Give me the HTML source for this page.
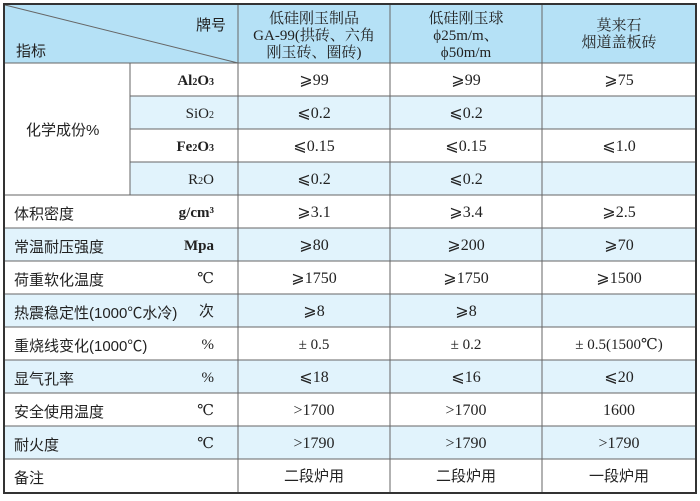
<!DOCTYPE html>
<html><head><meta charset="utf-8"><style>
html,body{margin:0;padding:0;background:#fff;}
svg text{font-family:"Liberation Serif","DejaVu Serif","Noto Serif CJK SC",serif;font-size:15px;fill:#222;}
.v{font-size:16px;}
.s{font-family:"Liberation Sans","Noto Sans CJK SC",sans-serif;font-size:15px;fill:#222;}
</style></head><body>
<svg width="700" height="496" viewBox="0 0 700 496" xmlns="http://www.w3.org/2000/svg">
<rect x="0" y="0" width="700" height="496" fill="#fff"/>
<rect x="4" y="4" width="692" height="59" fill="#b5e1f6"/>
<rect x="130" y="96" width="566" height="33" fill="#e1f3fc"/>
<rect x="130" y="162" width="566" height="33" fill="#e1f3fc"/>
<rect x="4" y="228" width="692" height="33" fill="#e1f3fc"/>
<rect x="4" y="294" width="692" height="33" fill="#e1f3fc"/>
<rect x="4" y="360" width="692" height="33" fill="#e1f3fc"/>
<rect x="4" y="426" width="692" height="33" fill="#e1f3fc"/>
<g stroke="#666" stroke-width="1">
<line x1="4" y1="63" x2="696" y2="63"/>
<line x1="130" y1="96" x2="696" y2="96"/>
<line x1="130" y1="129" x2="696" y2="129"/>
<line x1="130" y1="162" x2="696" y2="162"/>
<line x1="4" y1="195" x2="696" y2="195"/>
<line x1="4" y1="228" x2="696" y2="228"/>
<line x1="4" y1="261" x2="696" y2="261"/>
<line x1="4" y1="294" x2="696" y2="294"/>
<line x1="4" y1="327" x2="696" y2="327"/>
<line x1="4" y1="360" x2="696" y2="360"/>
<line x1="4" y1="393" x2="696" y2="393"/>
<line x1="4" y1="426" x2="696" y2="426"/>
<line x1="4" y1="459" x2="696" y2="459"/>
<line x1="130" y1="63" x2="130" y2="195"/>
<line x1="238" y1="4" x2="238" y2="493"/>
<line x1="390" y1="4" x2="390" y2="493"/>
<line x1="542" y1="4" x2="542" y2="493"/>
<line x1="5" y1="5" x2="238" y2="63"/>
</g>
<rect x="4" y="4" width="692" height="489" fill="none" stroke="#333" stroke-width="2"/>
<text class="s" x="16" y="56">指标</text>
<text class="s" x="196" y="30">牌号</text>
<text x="314" y="23" text-anchor="middle">低硅刚玉制品</text>
<text x="314" y="40" text-anchor="middle">GA-99(拱砖、六角</text>
<text x="314" y="57" text-anchor="middle">刚玉砖、圈砖)</text>
<text x="466" y="23" text-anchor="middle">低硅刚玉球</text>
<text x="466" y="40" text-anchor="middle">ϕ25m/m、</text>
<text x="466" y="57" text-anchor="middle">ϕ50m/m</text>
<text x="619" y="30" text-anchor="middle">莫来石</text>
<text x="619" y="47" text-anchor="middle">烟道盖板砖</text>
<text class="s" x="26" y="135">化学成份%</text>
<text x="214" y="85" text-anchor="end" font-weight="bold">Al<tspan font-size="10">2</tspan>O<tspan font-size="10">3</tspan></text>
<text x="214" y="118" text-anchor="end">SiO<tspan font-size="10">2</tspan></text>
<text x="214" y="151" text-anchor="end" font-weight="bold">Fe<tspan font-size="10">2</tspan>O<tspan font-size="10">3</tspan></text>
<text x="214" y="184" text-anchor="end">R<tspan font-size="10">2</tspan>O</text>
<g text-anchor="middle" class="v">
<text class="v" x="314" y="85">⩾99</text><text class="v" x="466" y="85">⩾99</text><text class="v" x="619" y="85">⩾75</text>
<text class="v" x="314" y="118">⩽0.2</text><text class="v" x="466" y="118">⩽0.2</text>
<text class="v" x="314" y="151">⩽0.15</text><text class="v" x="466" y="151">⩽0.15</text><text class="v" x="619" y="151">⩽1.0</text>
<text class="v" x="314" y="184">⩽0.2</text><text class="v" x="466" y="184">⩽0.2</text>
<text class="v" x="314" y="217">⩾3.1</text><text class="v" x="466" y="217">⩾3.4</text><text class="v" x="619" y="217">⩾2.5</text>
<text class="v" x="314" y="250">⩾80</text><text class="v" x="466" y="250">⩾200</text><text class="v" x="619" y="250">⩾70</text>
<text class="v" x="314" y="283">⩾1750</text><text class="v" x="466" y="283">⩾1750</text><text class="v" x="619" y="283">⩾1500</text>
<text class="v" x="314" y="316">⩾8</text><text class="v" x="466" y="316">⩾8</text>
<text x="314" y="349">± 0.5</text><text x="466" y="349">± 0.2</text><text x="619" y="349">± 0.5(1500℃)</text>
<text class="v" x="314" y="382">⩽18</text><text class="v" x="466" y="382">⩽16</text><text class="v" x="619" y="382">⩽20</text>
<text class="v" x="314" y="415">&gt;1700</text><text class="v" x="466" y="415">&gt;1700</text><text class="v" x="619" y="415">1600</text>
<text class="v" x="314" y="448">&gt;1790</text><text class="v" x="466" y="448">&gt;1790</text><text class="v" x="619" y="448">&gt;1790</text>
<text class="s" x="314" y="481">二段炉用</text><text class="s" x="466" y="481">二段炉用</text><text class="s" x="619" y="481">一段炉用</text>
</g>
<g>
<text class="s" x="14" y="219">体积密度</text>
<text class="s" x="14" y="252">常温耐压强度</text>
<text class="s" x="14" y="285">荷重软化温度</text>
<text class="s" x="14" y="318">热震稳定性(1000℃水冷)</text>
<text class="s" x="14" y="351">重烧线变化(1000℃)</text>
<text class="s" x="14" y="384">显气孔率</text>
<text class="s" x="14" y="417">安全使用温度</text>
<text class="s" x="14" y="450">耐火度</text>
<text class="s" x="14" y="483">备注</text>
</g>
<g text-anchor="end">
<text x="214" y="217" font-weight="bold">g/cm³</text>
<text x="214" y="250" font-weight="bold">Mpa</text>
<text x="214" y="283">℃</text>
<text class="s" x="214" y="316" text-anchor="end">次</text>
<text x="214" y="349">%</text>
<text x="214" y="382">%</text>
<text x="214" y="415">℃</text>
<text x="214" y="448">℃</text>
</g>
</svg>
</body></html>
